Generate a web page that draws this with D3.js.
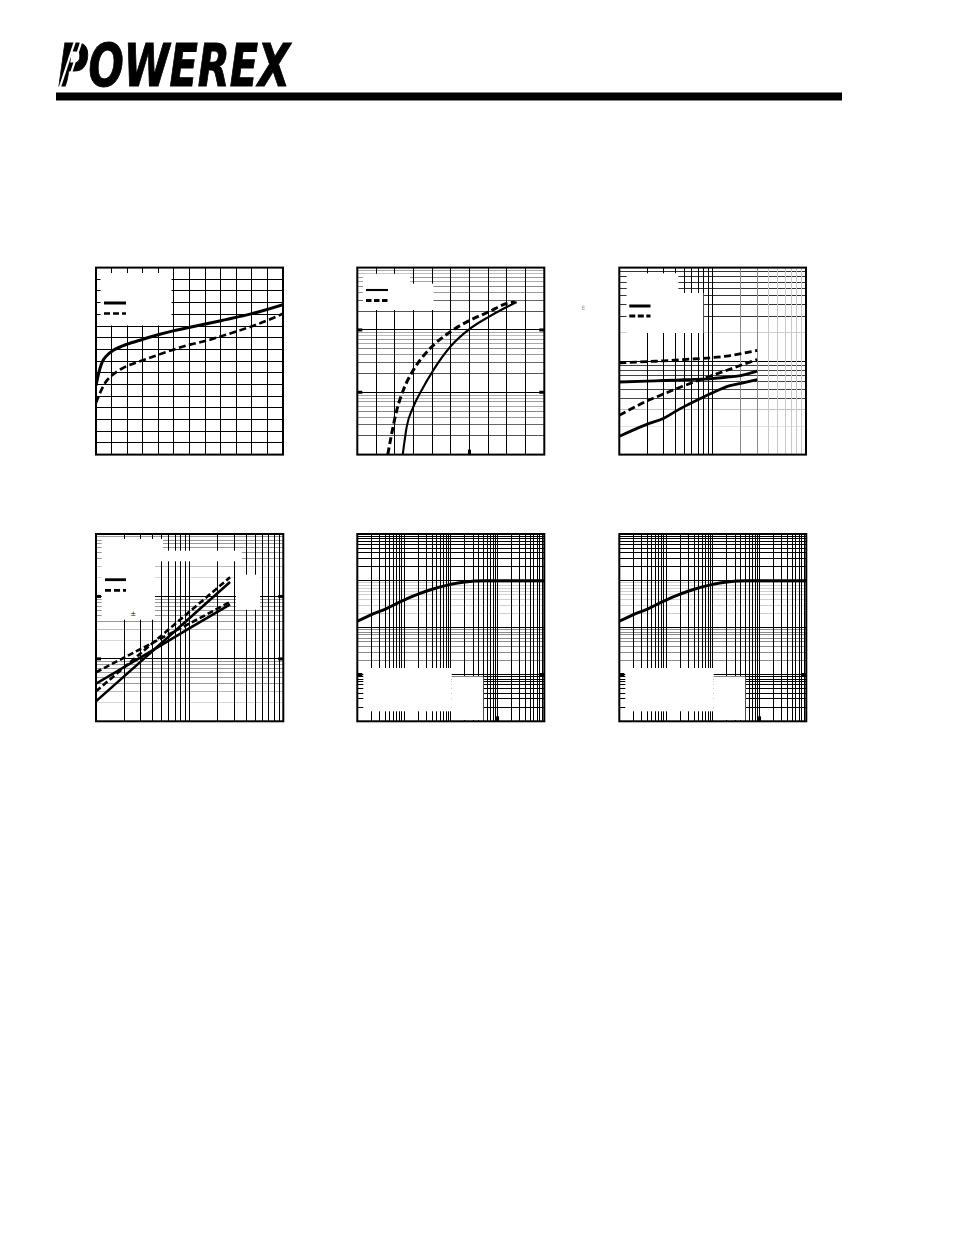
<!DOCTYPE html>
<html><head><meta charset="utf-8">
<script src="https://cdn.jsdelivr.net/npm/d3@7/dist/d3.min.js"></script>
<style>html,body{margin:0;padding:0;background:#fff;} svg{display:block;}</style>
</head><body>
<svg id="page" width="954" height="1235" xmlns="http://www.w3.org/2000/svg"></svg>
<script>
// ---------------- data ----------------
// Panel 1 : linear grid, 12 x 16 divisions
const p1SolidX = [0, 0.15, 0.37, 0.69, 1.11, 1.75, 2.82, 4.04, 5.02, 6.03, 8.01, 10.02, 12.0];
const p1SolidY = [5.90, 6.84, 7.84, 8.47, 8.92, 9.32, 9.78, 10.27, 10.61, 10.89, 11.46, 12.06, 12.83];
const p1DashX  = [0, 0.26, 0.58, 1.01, 1.75, 2.82, 3.89, 4.96, 6.03, 7.10, 8.16, 9.23, 10.30, 11.37, 12.0];
const p1DashY  = [4.42, 5.28, 6.13, 6.76, 7.42, 7.98, 8.49, 8.98, 9.41, 9.75, 10.18, 10.63, 11.12, 11.69, 12.06];

// Panel 2 : linear x (10 div), log y (1 .. 1000)
const p2SolidX = [2.43, 2.64, 2.99, 3.44, 4.06, 4.96, 6.03, 7.01, 7.99, 8.52];
const p2SolidY = [1.0, 2.77, 5.8, 10.8, 22.5, 53.3, 105, 161, 233, 281];
const p2DashX  = [1.63, 1.84, 2.11, 2.46, 2.99, 3.89, 4.96, 6.03, 7.01, 7.99, 8.43];
const p2DashY  = [1.0, 2.17, 5.14, 10.8, 22.5, 50.2, 92.7, 143, 194, 265, 281];

// Panel 3 : log x (1 .. 100), log y (1 .. 100)
const p3XUpper      = [1, 2, 3, 5, 10, 15, 20, 30];
const p3DashUpper   = [9.55, 9.88, 10.07, 10.4, 10.9, 11.4, 12.0, 13.0];
const p3SolidUpper  = [5.98, 6.11, 6.2, 6.34, 6.51, 6.78, 7.0, 7.8];
const p3XLower      = [1, 2, 3, 4, 5, 8, 10, 15, 20, 30];
const p3DashLower   = [2.63, 3.76, 4.46, 5.02, 5.47, 6.52, 7.05, 8.13, 9.02, 10.4];
const p3SolidLower  = [1.57, 2.12, 2.45, 2.90, 3.28, 4.14, 4.59, 5.44, 5.79, 6.32];

// Panel 4 : log x (1 .. 100), log y (1 .. 1000)
const p4X            = [1, 3, 10, 27];
const p4DashSteep    = [3.02, 12.3, 57.2, 203];
const p4SolidSteep   = [2.09, 9.04, 45, 170];
const p4DashShallow  = [6.1, 14.4, 37, 81.5];
const p4SolidShallow = [4.0, 10.6, 31, 74.3];

// Panels 5 and 6 : normalized transient thermal impedance, log x (0.001 .. 10), log y (0.001 .. 10)
const p5X = [0.001, 0.002, 0.004, 0.008, 0.02, 0.04, 0.1, 0.2, 0.5, 1, 10];
const p5Y = [0.137, 0.19, 0.25, 0.35, 0.52, 0.66, 0.84, 0.94, 1.0, 1.0, 1.0];
const p6X = [0.001, 0.002, 0.004, 0.008, 0.02, 0.04, 0.1, 0.2, 0.5, 1, 10];
const p6Y = [0.137, 0.19, 0.25, 0.35, 0.52, 0.66, 0.84, 0.94, 1.0, 1.0, 1.0];

// ---------------- drawing ----------------
const svg = d3.select('#page');
const defs = svg.append('defs');
const crisp = v => Math.round(v - 0.5) + 0.5;
const zip = (xs, ys) => xs.map((v, i) => [v, ys[i]]);

const black = () => '#000';
const panels = [
  { id: 'p1', x0: 96, x1: 283, y0: 267.6, y1: 454.6, xLog: false, xDomain: [0, 12], yLog: false, yDomain: [0, 16],
    vColor: black, hColor: black,
    boxes: [[100.5, 273, 171.5, 325.5]],
    series: [ {d: zip(p1SolidX, p1SolidY), w: 3, dash: null},
              {d: zip(p1DashX, p1DashY), w: 2.6, dash: '7,3.5'} ],
    legend: [ {x1: 104, x2: 126, y: 303, w: 3, dash: null},
              {x1: 104, x2: 126, y: 313.5, w: 2.6, dash: '6,3'} ],
    majors: [] },
  { id: 'p2', x0: 357.3, x1: 544.3, y0: 267.6, y1: 454.6, xLog: false, xDomain: [0, 10], yLog: true, yDomain: [1, 1000],
    vColor: black,
    hColor: (k) => k === 1 ? '#000' : ({2:'#555',3:'#666',4:'#999',5:'#888',6:'#aaa',7:'#999',8:'#bbb',9:'#aaa'})[k],
    boxes: [[363, 273.8, 410, 310], [363, 283.7, 433.5, 310]],
    series: [ {d: zip(p2SolidX, p2SolidY), w: 2.1, dash: null},
              {d: zip(p2DashX, p2DashY), w: 3, dash: '7,3.5'} ],
    legend: [ {x1: 366, x2: 388, y: 290, w: 2.1, dash: null},
              {x1: 366, x2: 388, y: 300.5, w: 3, dash: '5.5,2.5'} ],
    majors: [ {side: 'left', v: 10}, {side: 'left', v: 100}, {side: 'right', v: 10}, {side: 'right', v: 100}, {side: 'bottom', v: 6} ] },
  { id: 'p3', x0: 619.3, x1: 806, y0: 267.6, y1: 454.6, xLog: true, xDomain: [1, 100], yLog: true, yDomain: [1, 100],
    vColor: (k, dec) => (dec === 0 || k === 1) ? '#000' : (k <= 3 ? '#8a8a8a' : '#c8c8c8'),
    hColor: (k, dec) => k === 1 ? '#000' : (dec === 1 ? (k === 2 ? '#cfcfcf' : '#333') : (k === 2 ? '#e2e2e2' : (k === 3 ? '#c0c0c0' : '#444'))),
    boxes: [[626.7, 273.3, 678.3, 333], [626.7, 293, 703.3, 333]],
    series: [ {d: zip(p3XUpper, p3DashUpper), w: 2.8, dash: '7,3.5'},
              {d: zip(p3XUpper, p3SolidUpper), w: 2.8, dash: null},
              {d: zip(p3XLower, p3DashLower), w: 2.8, dash: '7,3.5'},
              {d: zip(p3XLower, p3SolidLower), w: 2.8, dash: null} ],
    legend: [ {x1: 629.3, x2: 650.5, y: 306, w: 3, dash: null},
              {x1: 629.3, x2: 650.5, y: 316, w: 3, dash: '6,2.5'} ],
    majors: [] },
  { id: 'p4', x0: 96, x1: 283.3, y0: 534, y1: 721.3, xLog: true, xDomain: [1, 100], yLog: true, yDomain: [1, 1000],
    vColor: black,
    hColor: (k) => k === 1 ? '#000' : (k === 2 ? '#d8d8d8' : (k === 3 ? '#bbb' : '#999')),
    boxes: [[101.7, 539, 163, 551], [101.7, 550.7, 241.7, 561.3], [101.7, 561, 155, 619.7], [236, 574.7, 260, 609.7]],
    series: [ {d: zip(p4X, p4DashShallow), w: 2.6, dash: '6,3'},
              {d: zip(p4X, p4SolidShallow), w: 2.6, dash: null},
              {d: zip(p4X, p4DashSteep), w: 2.6, dash: '6,3'},
              {d: zip(p4X, p4SolidSteep), w: 2.6, dash: null} ],
    legend: [ {x1: 105, x2: 126, y: 579.7, w: 2.8, dash: null},
              {x1: 105, x2: 126, y: 590.3, w: 2.8, dash: '6,3'} ],
    majors: [ {side: 'left', v: 10}, {side: 'left', v: 100}, {side: 'right', v: 10}, {side: 'right', v: 100} ] },
  { id: 'p5', x0: 357.3, x1: 544.3, y0: 534, y1: 721.3, xLog: true, xDomain: [0.001, 10], yLog: true, yDomain: [0.001, 10],
    vColor: black,
    hColor: (k, dec) => (k === 1 || dec === 0 || dec === -3) ? '#000' : (dec === -1 ? '#cfcfcf' : '#8c8c8c'),
    boxes: [[363.3, 668, 451.7, 711.3], [451.7, 676.5, 483.3, 720]],
    series: [ {d: zip(p5X, p5Y), w: 3, dash: null} ],
    legend: [],
    majors: [ {side: 'left', v: 0.01}, {side: 'right', v: 0.01}, {side: 'bottom', v: 1} ] },
  { id: 'p6', x0: 619.3, x1: 806.3, y0: 534, y1: 721.3, xLog: true, xDomain: [0.001, 10], yLog: true, yDomain: [0.001, 10],
    vColor: black,
    hColor: (k, dec) => (k === 1 || dec === 0 || dec === -3) ? '#000' : (dec === -1 ? '#cfcfcf' : '#8c8c8c'),
    boxes: [[625.3, 668, 713.7, 711.3], [713.7, 676.5, 745.3, 720]],
    series: [ {d: zip(p6X, p6Y), w: 3, dash: null} ],
    legend: [],
    majors: [ {side: 'left', v: 0.01}, {side: 'right', v: 0.01}, {side: 'bottom', v: 1} ] }
];

function info(v, log) {
  if (!log) return {k: v, dec: 0};
  const dec = Math.floor(Math.log10(v) + 1e-9);
  return {k: Math.round(v / Math.pow(10, dec)), dec};
}

panels.forEach(p => {
  const g = svg.append('g').attr('id', p.id);
  const x = (p.xLog ? d3.scaleLog() : d3.scaleLinear()).domain(p.xDomain).range([p.x0, p.x1]);
  const y = (p.yLog ? d3.scaleLog() : d3.scaleLinear()).domain(p.yDomain).range([p.y1, p.y0]);
  const xt = p.xLog ? x.ticks() : d3.range(p.xDomain[0], p.xDomain[1] + 1);
  const yt = p.yLog ? y.ticks() : d3.range(p.yDomain[0], p.yDomain[1] + 1);

  const grid = g.append('g');
  yt.forEach(v => {
    const py = y(v);
    if (Math.abs(py - p.y0) < 1 || Math.abs(py - p.y1) < 1) return;
    const I = info(v, p.yLog);
    grid.append('line').attr('x1', p.x0).attr('x2', p.x1).attr('y1', crisp(py)).attr('y2', crisp(py))
      .attr('stroke', p.hColor(I.k, I.dec)).attr('stroke-width', 1);
  });
  xt.forEach(v => {
    const px = x(v);
    if (Math.abs(px - p.x0) < 1 || Math.abs(px - p.x1) < 1) return;
    const I = info(v, p.xLog);
    grid.append('line').attr('y1', p.y0).attr('y2', p.y1).attr('x1', crisp(px)).attr('x2', crisp(px))
      .attr('stroke', p.vColor(I.k, I.dec)).attr('stroke-width', 1);
  });

  // white label areas (text of the original not rendered)
  p.boxes.forEach(b => {
    g.append('rect').attr('x', b[0]).attr('y', b[1]).attr('width', b[2] - b[0]).attr('height', b[3] - b[1]).attr('fill', '#fff');
  });

  // curves
  defs.append('clipPath').attr('id', 'clip-' + p.id).append('rect')
    .attr('x', p.x0).attr('y', p.y0).attr('width', p.x1 - p.x0).attr('height', p.y1 - p.y0);
  const line = d3.line().x(d => x(d[0])).y(d => y(d[1])).curve(d3.curveMonotoneX);
  const cg = g.append('g').attr('clip-path', `url(#clip-${p.id})`);
  p.series.forEach(s => {
    cg.append('path').attr('d', line(s.d)).attr('fill', 'none').attr('stroke', '#000')
      .attr('stroke-width', s.w).attr('stroke-dasharray', s.dash).attr('stroke-linejoin', 'round');
  });

  // legend samples
  p.legend.forEach(l => {
    g.append('line').attr('x1', l.x1).attr('x2', l.x2).attr('y1', l.y).attr('y2', l.y)
      .attr('stroke', '#000').attr('stroke-width', l.w).attr('stroke-dasharray', l.dash);
  });

  // frame
  g.append('rect').attr('x', p.x0).attr('y', p.y0).attr('width', p.x1 - p.x0).attr('height', p.y1 - p.y0)
    .attr('fill', 'none').attr('stroke', '#000').attr('stroke-width', 2);

  // heavier major ticks on the frame
  p.majors.forEach(m => {
    const t = g.append('line').attr('stroke', '#000').attr('stroke-width', 3);
    if (m.side === 'left')   t.attr('x1', p.x0).attr('x2', p.x0 + 5).attr('y1', y(m.v)).attr('y2', y(m.v));
    if (m.side === 'right')  t.attr('x1', p.x1 - 5).attr('x2', p.x1).attr('y1', y(m.v)).attr('y2', y(m.v));
    if (m.side === 'bottom') t.attr('x1', x(m.v)).attr('x2', x(m.v)).attr('y1', p.y1 - 5).attr('y2', p.y1);
  });
});

// small texts that survived in the picture
svg.append('text').attr('x', 133.3).attr('y', 616).attr('text-anchor', 'middle')
  .attr('font-family', 'DejaVu Sans').attr('font-size', 7).text('±');
svg.append('text').attr('x', 583.5).attr('y', 309.5).attr('text-anchor', 'middle')
  .attr('font-family', 'DejaVu Sans').attr('font-size', 6).attr('fill', '#999').text('E');

// ---------------- header: logo and bar ----------------
const logo = svg.append('g');
logo.append('text').attr('x', 58).attr('y', 85.5)
  .attr('font-family', 'DejaVu Sans').attr('font-weight', 'bold').attr('font-style', 'italic')
  .attr('font-size', 59).attr('textLength', 232).attr('lengthAdjust', 'spacingAndGlyphs')
  .attr('stroke', '#000').attr('stroke-width', 1).text('POWEREX');
[[60, 66], [66.5, 72.5]].forEach(s => {
  logo.append('line').attr('x1', s[0]).attr('y1', 87).attr('x2', s[0] + 15).attr('y2', 41)
    .attr('stroke', '#fff').attr('stroke-width', 2.2);
});
svg.append('rect').attr('x', 56).attr('y', 92.5).attr('width', 786).attr('height', 8).attr('fill', '#000');
</script>
</body></html>
